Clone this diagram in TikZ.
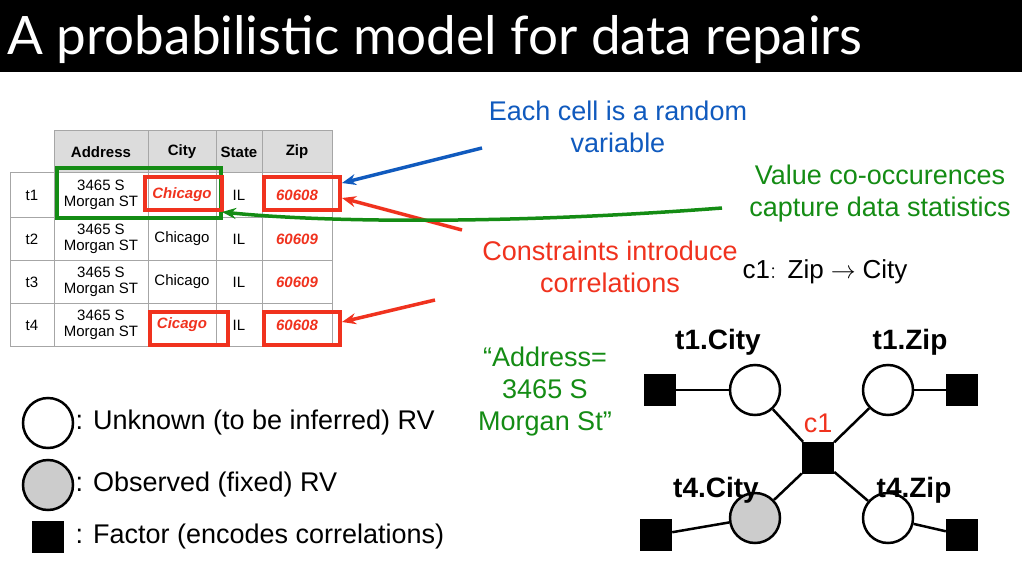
\documentclass[tikz,border=0pt]{standalone}
\usepackage{fontspec}
\setmainfont{Liberation Sans}
\newfontfamily\titlefont{Lato}
\usetikzlibrary{positioning,arrows.meta}
\definecolor{tblue}{RGB}{16,90,190}
\definecolor{tgreen}{RGB}{20,140,20}
\definecolor{tred}{RGB}{240,50,30}
\definecolor{hgray}{RGB}{220,220,220}
\begin{document}
\begin{tikzpicture}[x=1pt,y=-1pt,
  Cell/.style={draw=gray!70, line width=0.8pt},
  TxT/.style={font=\fontsize{15}{16}\selectfont, align=center},
  Note/.style={font=\fontsize{27}{32}\selectfont, align=center},
  Mark/.style={draw=tred, line width=4pt},
  RV/.style={circle, draw, line width=2.5pt, fill=white, minimum size=50pt, inner sep=0pt},
  OBS/.style={RV, fill=gray!40},
  Factor/.style={rectangle, fill=black, minimum size=32pt, inner sep=0pt},
  Edge/.style={line width=2.5pt},
  Lbl/.style={font=\bfseries\fontsize{28}{30}\selectfont},
  Leg/.style={font=\fontsize{27}{30}\selectfont, anchor=west},
  Arr/.style={-{Stealth[length=14pt,width=11pt]}, line width=3.5pt}]
\useasboundingbox (0,0) rectangle (1024,575);
\fill[white] (0,0) rectangle (1024,575);
\fill[black] (0,0) rectangle (1022,72);
\node[anchor=west, text=white, font=\titlefont\fontsize{53}{55}\selectfont] (title) at (4,40) {A probabilistic model for data repairs};

% table
\fill[hgray] (54,130) rectangle (332,172);
\draw[Cell] (54,130) rectangle (332,172);
\foreach \x in {148,216,262} \draw[Cell] (\x,130) -- (\x,346);
\foreach \y in {172,217,260,303} \draw[Cell] (10,\y) -- (332,\y);
\draw[Cell] (10,172) rectangle (332,346);
\draw[Cell] (54,172) -- (54,346);
\foreach \t/\x in {Address/101,City/182,State/239,Zip/297}
  \node[TxT, font=\bfseries\fontsize{15}{16}\selectfont] at (\x,152) {\t};
\foreach \r/\y/\z in {1/195/60608, 2/239/60609, 3/282/60609, 4/325/60608}{
  \node[TxT] at (32,\y) {t\r};
  \node[TxT] at (101,\y) {3465 S\\Morgan ST};
  \node[TxT] at (239,\y) {IL};
  \node[TxT, text=tred, font=\bfseries\itshape\fontsize{15}{16}\selectfont] at (297,\y) {\z};
}
\node[TxT, text=tred, font=\bfseries\itshape\fontsize{15}{16}\selectfont] at (182,195) {Chicago};
\node[TxT] at (182,239) {Chicago};
\node[TxT] at (182,282) {Chicago};
\node[TxT, text=tred, font=\bfseries\itshape\fontsize{15}{16}\selectfont] at (182,325) {Cicago};
\draw[tgreen, line width=3.5pt] (57,168) rectangle (221,218);
\draw[tblue, line width=3.5pt] (262,210) -- (340,210);
\draw[Mark] (145,177) rectangle (222,210);
\draw[Mark] (264,177) rectangle (340,210);
\draw[Mark] (150,312) rectangle (228,345);
\draw[Mark] (264,312) rectangle (340,345);
\coordinate (zipA) at (342,183);
\coordinate (zipB) at (342,198);
\coordinate (zipD) at (342,322);
\coordinate (addr) at (222,212);

% notes
\node[Note, text=tblue] (cell) at (618,127) {Each cell is a random\\variable};
\node[Note, text=tgreen] (cooc) at (880,194) {Value co-occurences\\capture data statistics};
\node[Note, text=tred] (cons) at (610,267) {Constraints introduce\\correlations};
\node[font=\fontsize{26}{28}\selectfont] (rule) at (825,272) {$\mathrm{c1\colon\ Zip}\rightarrow\mathrm{City}$};
\node[Note, text=tgreen] (quote) at (545,392) {“Address=\\3465 S\\Morgan St”};
\draw[Arr, tblue] (482,148) -- (zipA);
\draw[Arr, tred] (462,230) -- (zipB);
\draw[Arr, tred] (435,300) -- (zipD);
\draw[Arr, tgreen] (722,208) .. controls (500,225) and (320,222) .. (addr);

% factor graph
\node[RV] (t1c) at (755,390) {};
\node[RV] (t1z) at (888,390) {};
\node[RV] (t4z) at (888,518) {};
\node[OBS] (t4c) at (755,518) {};
\node[Factor] (c1) at (818,458) {};
\node[Factor] (f1) at (660,390) {};
\node[Factor] (f2) at (962,390) {};
\node[Factor] (f3) at (656,535) {};
\node[Factor] (f4) at (962,535) {};
\foreach \a/\b in {f1/t1c,f2/t1z,f3/t4c,f4/t4z,c1/t1c,c1/t1z,c1/t4c,c1/t4z}
  \draw[Edge] (\a) -- (\b);
\node[Lbl] at (718,342) {t1.City};
\node[Lbl] at (910,342) {t1.Zip};
\node[Lbl] at (716,490) {t4.City};
\node[Lbl] at (914,490) {t4.Zip};
\node[text=tred, font=\fontsize{27}{28}\selectfont] at (818,423) {c1};

% legend
\node[RV] (lu) at (48,423) {};
\node[OBS] (lo) at (48,485) {};
\node[Factor] (lf) at (48,537) {};
\node[Leg] at (72,423) {: Unknown (to be inferred) RV};
\node[Leg] at (72,485) {: Observed (fixed) RV};
\node[Leg] at (72,537) {: Factor (encodes correlations)};
\end{tikzpicture}
\end{document}
